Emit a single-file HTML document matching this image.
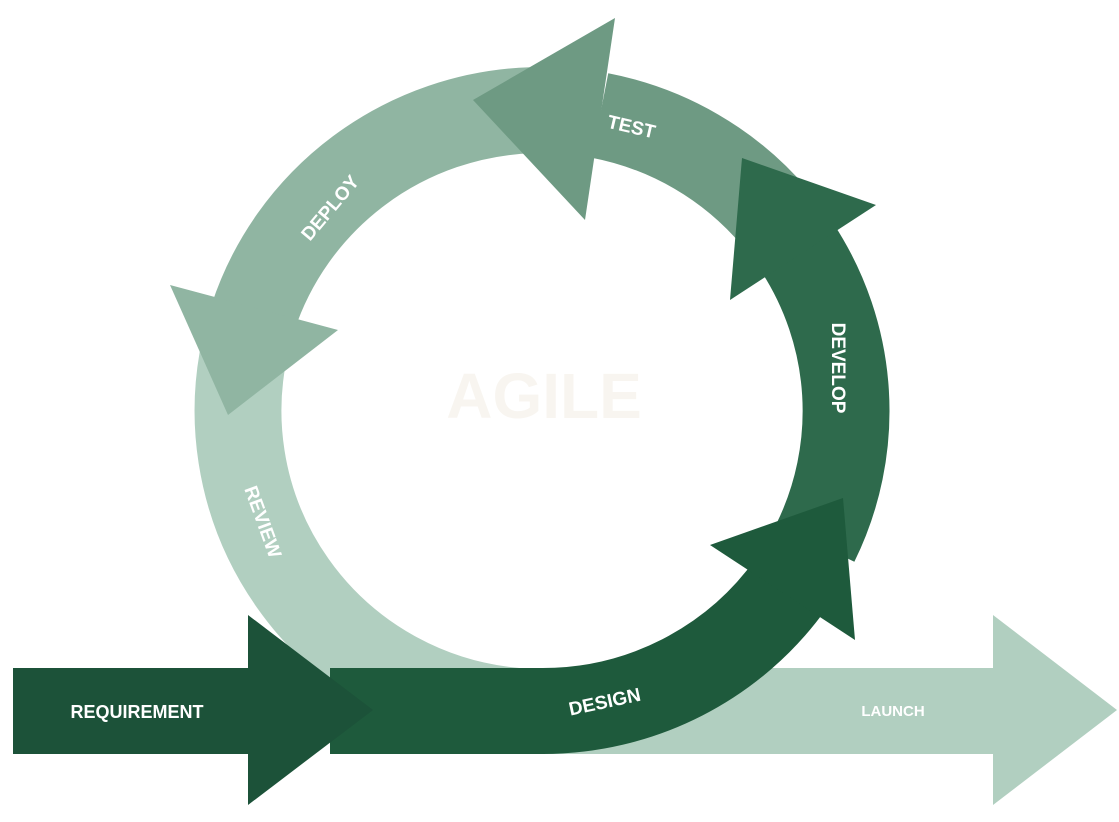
<!DOCTYPE html>
<html><head><meta charset="utf-8"><style>
html,body{margin:0;padding:0;background:#fff;width:1119px;height:822px;overflow:hidden}
svg{display:block}
text{font-family:"Liberation Sans",sans-serif;font-weight:bold;fill:#fff}
</style></head><body>
<svg width="1119" height="822" viewBox="0 0 1119 822">
<rect x="430" y="668" width="565" height="86" fill="#b1cfc0"/>
<polygon points="993,615 1117,710 993,805" fill="#b1cfc0"/>
<g transform="translate(542,411) scale(1.01,1) translate(-542,-411)">
<path d="M251.3 333 A301 301 0 0 0 515.8 710.8" fill="none" stroke="#b1cfc0" stroke-width="86"/>
<path d="M531.5 110.2 A301 301 0 0 0 255.7 318" fill="none" stroke="#90b5a2" stroke-width="86"/>
<path d="M772.6 217.5 A301 301 0 0 0 599.4 115.5" fill="none" stroke="#6e9a83" stroke-width="86"/>
</g>
<polygon points="170,285 338,330 228,415" fill="#90b5a2"/>
<polygon points="615,18 473,100 585,220" fill="#6e9a83"/>
<g transform="translate(542,411) scale(1.01,1) translate(-542,-411)">
<path d="M812.6 542.9 A301 301 0 0 0 794.5 247" fill="none" stroke="#2e6a4c" stroke-width="86"/>
</g>
<polygon points="730,300 742,158 876,205" fill="#2e6a4c"/>
<rect x="330" y="668" width="215" height="86" fill="#1e5a3c"/>
<g transform="translate(542,411) scale(1.01,1) translate(-542,-411)">
<path d="M542 711 A301 301 0 0 0 788.6 583.6" fill="none" stroke="#1e5a3c" stroke-width="86"/>
</g>
<polygon points="710,545 843,498 855,640" fill="#1e5a3c"/>
<rect x="13" y="668" width="237" height="86" fill="#1c5239"/>
<polygon points="248,615 373,710 248,805" fill="#1c5239"/>

<text x="544" y="418" font-size="64" text-anchor="middle" style="fill:#f8f5f0">AGILE</text>
<text x="137" y="718" font-size="18" text-anchor="middle">REQUIREMENT</text>
<text x="893" y="716" font-size="15" text-anchor="middle">LAUNCH</text>
<text transform="translate(606,708) rotate(-12)" font-size="19" text-anchor="middle">DESIGN</text>
<text transform="translate(832,368) rotate(90)" font-size="19" text-anchor="middle">DEVELOP</text>
<text transform="translate(630,133) rotate(13)" font-size="19" text-anchor="middle">TEST</text>
<text transform="translate(335,212) rotate(-50)" font-size="19" text-anchor="middle">DEPLOY</text>
<text transform="translate(257,524) rotate(70)" font-size="19" text-anchor="middle">REVIEW</text>
</svg>
</body></html>
